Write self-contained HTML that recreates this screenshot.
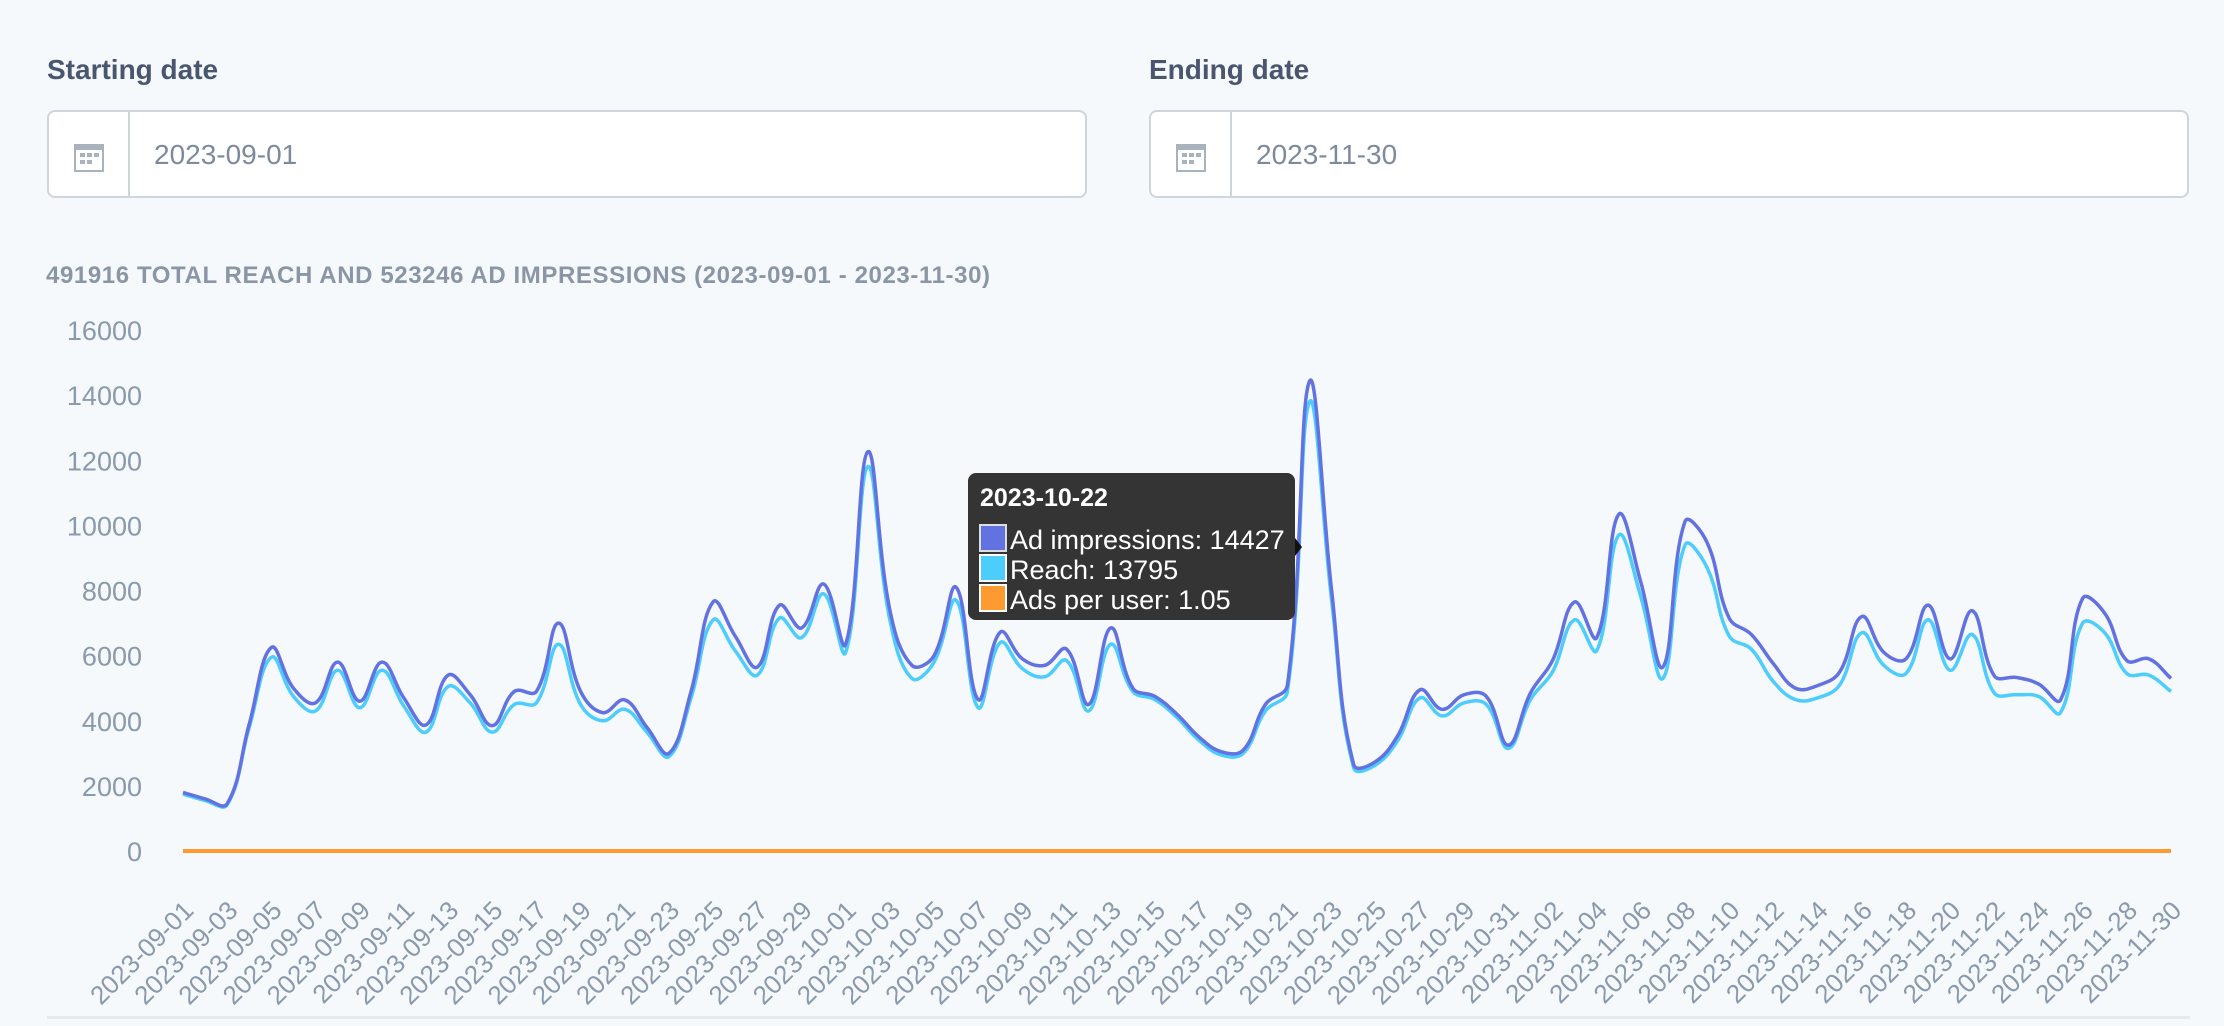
<!DOCTYPE html>
<html><head><meta charset="utf-8"><style>
html,body{margin:0;padding:0;background:#f5f9fc;}
body{width:2224px;height:1026px;position:relative;overflow:hidden;font-family:"Liberation Sans",sans-serif;}
.lbl{position:absolute;font-weight:bold;font-size:28px;color:#4a5670;}
.box{position:absolute;height:88px;background:#fff;border:2px solid #cfd5dc;border-radius:8px;box-sizing:border-box;}
.ic{position:absolute;left:0;top:0;width:81px;height:100%;border-right:2px solid #cfd5dc;box-sizing:border-box;}
.val{position:absolute;left:105px;top:0;line-height:86px;font-size:28px;color:#7d8a9c;}
.title{position:absolute;left:46px;top:262px;font-size:24px;font-weight:bold;color:#8a96a6;letter-spacing:0.6px;}
svg{position:absolute;left:0;top:0;}
</style></head><body>
<div class="lbl" style="left:47px;top:54px;">Starting date</div>
<div class="box" style="left:47px;top:110px;width:1040px;">
 <div class="ic"><svg width="36" height="36" style="left:22px;top:26px" viewBox="0 0 36 36"><rect x="3" y="6" width="30" height="28" fill="#a9b2bd"/><rect x="5" y="12" width="26" height="20" fill="#fff"/><g fill="#a9b2bd"><rect x="9" y="15" width="5" height="4"/><rect x="16" y="15" width="5" height="4"/><rect x="23" y="15" width="5" height="4"/><rect x="9" y="22" width="5" height="4"/><rect x="16" y="22" width="5" height="4"/></g></svg></div>
 <div class="val">2023-09-01</div>
</div>
<div class="lbl" style="left:1149px;top:54px;">Ending date</div>
<div class="box" style="left:1149px;top:110px;width:1040px;">
 <div class="ic"><svg width="36" height="36" style="left:22px;top:26px" viewBox="0 0 36 36"><rect x="3" y="6" width="30" height="28" fill="#a9b2bd"/><rect x="5" y="12" width="26" height="20" fill="#fff"/><g fill="#a9b2bd"><rect x="9" y="15" width="5" height="4"/><rect x="16" y="15" width="5" height="4"/><rect x="23" y="15" width="5" height="4"/><rect x="9" y="22" width="5" height="4"/><rect x="16" y="22" width="5" height="4"/></g></svg></div>
 <div class="val">2023-11-30</div>
</div>
<div class="title">491916 TOTAL REACH AND 523246 AD IMPRESSIONS (2023-09-01 - 2023-11-30)</div>
<svg id="chart" width="2224" height="1026"></svg>
<script>
const impressions=[1800,1600,1450,3900,6250,5000,4550,5800,4600,5800,4700,3870,5400,4800,3850,4900,4900,7000,4900,4250,4640,3800,3000,4900,7650,6600,5650,7550,6850,8200,6350,12260,7400,5700,6000,8100,4650,6720,5900,5700,6200,4500,6850,5000,4750,4200,3500,3050,3100,4500,5100,14427,8000,2650,2750,3550,4950,4350,4800,4750,3250,4850,5850,7650,6550,10340,8250,5650,10120,9470,7150,6650,5750,5000,5080,5500,7200,6100,5900,7550,5900,7380,5380,5330,5130,4640,7760,7300,5850,5900,5300];
const reach=[1750,1550,1420,3800,5950,4750,4300,5550,4400,5550,4450,3650,5050,4550,3650,4500,4550,6350,4500,4000,4350,3650,2900,4700,7100,6150,5400,7150,6550,7900,6100,11800,7100,5300,5800,7700,4400,6400,5600,5350,5850,4300,6350,4900,4650,4100,3400,2950,3000,4300,4900,13795,7700,2550,2650,3400,4700,4150,4550,4500,3150,4650,5500,7100,6150,9700,7800,5300,9400,8700,6600,6200,5200,4650,4700,5100,6700,5700,5450,7100,5550,6650,4850,4800,4750,4250,7000,6700,5450,5400,4900];
const adsPerUser=[1.03,1.03,1.02,1.03,1.05,1.05,1.06,1.04,1.05,1.04,1.06,1.06,1.07,1.05,1.05,1.09,1.08,1.1,1.09,1.06,1.07,1.04,1.03,1.04,1.08,1.07,1.05,1.06,1.05,1.04,1.04,1.04,1.04,1.08,1.03,1.05,1.06,1.05,1.05,1.07,1.06,1.05,1.08,1.02,1.02,1.02,1.03,1.03,1.03,1.05,1.04,1.05,1.04,1.04,1.04,1.04,1.05,1.05,1.05,1.06,1.03,1.04,1.06,1.08,1.06,1.07,1.06,1.07,1.08,1.09,1.08,1.07,1.11,1.08,1.08,1.08,1.07,1.07,1.08,1.06,1.06,1.11,1.11,1.11,1.08,1.09,1.11,1.09,1.07,1.09,1.08];
const yTicks=[0,2000,4000,6000,8000,10000,12000,14000,16000];
const startDate=new Date(Date.UTC(2023,8,1));
const dates=impressions.map((_,i)=>{const d=new Date(startDate.getTime()+i*86400000);return d.toISOString().slice(0,10);});
const X0=183,X1=2171,Y0=851,Y1=330,YMAX=16000;
function xs(i){return X0+(X1-X0)*i/(dates.length-1);}
function ys(v){return Y0-(Y0-Y1)*v/YMAX;}
const NS='http://www.w3.org/2000/svg';
const svg=document.getElementById('chart');
function mk(t,a){const e=document.createElementNS(NS,t);for(const k in a)e.setAttribute(k,a[k]);return e;}
yTicks.forEach(t=>{const e=mk('text',{x:142,y:ys(t)+10,'text-anchor':'end','font-size':'27','fill':'#8a99ab','font-family':'Liberation Sans, sans-serif'});e.textContent=t;


svg.appendChild(e);});
dates.forEach((d,i)=>{if(i%2)return;const x=xs(i)+12,y=912;const e=mk('text',{x:x,y:y,'text-anchor':'end','font-size':'26','fill':'#8a99ab','font-family':'Liberation Sans, sans-serif',transform:'rotate(-45 '+x+' '+y+')'});e.textContent=d;


svg.appendChild(e);});
function pathFor(vals){const p=vals.map((v,i)=>[xs(i),ys(v)]);const t=0.4;let d='M'+p[0][0]+','+p[0][1];
const cps=p.map((c,i)=>{const pr=p[Math.max(0,i-1)],nx=p[Math.min(p.length-1,i+1)];
const d01=Math.hypot(c[0]-pr[0],c[1]-pr[1]),d12=Math.hypot(nx[0]-c[0],nx[1]-c[1]);
const s01=d01/(d01+d12||1),s12=d12/(d01+d12||1);const fa=t*s01,fb=t*s12;
return{p:[c[0]-fa*(nx[0]-pr[0]),c[1]-fa*(nx[1]-pr[1])],n:[c[0]+fb*(nx[0]-pr[0]),c[1]+fb*(nx[1]-pr[1])]};});
for(let i=1;i<p.length;i++){const a=cps[i-1].n,b=cps[i].p;d+=' C'+a[0]+','+a[1]+' '+b[0]+','+b[1]+' '+p[i][0]+','+p[i][1];}return d;}
const lo=mk('path',{d:pathFor(adsPerUser),fill:'none',stroke:'#ff9a30','stroke-width':4});


svg.appendChild(lo);
const lr=mk('path',{d:pathFor(reach),fill:'none',stroke:'#4ccdfb','stroke-width':3.5});


svg.appendChild(lr);
const li=mk('path',{d:pathFor(impressions),fill:'none',stroke:'#6272e0','stroke-width':3.5});


svg.appendChild(li);
const base=mk('rect',{x:47,y:1016,width:2143,height:3,fill:'#e5e9ee'});


svg.appendChild(base);
const tg=mk('g',{});


tg.appendChild(mk('rect',{x:968,y:473,width:327,height:147,rx:8,fill:'#333433'}));
tg.appendChild(mk('path',{d:'M1295,538 L1302,547 L1295,556 Z',fill:'#111'}));
const tt=mk('text',{x:980,y:506,'font-size':'25','font-weight':'bold',fill:'#fff','font-family':'Liberation Sans, sans-serif'});tt.textContent='2023-10-22';tg.appendChild(tt);
const rows=[['#6272e0','#ddd','Ad impressions: 14427'],['#4ccdfb','#fff','Reach: 13795'],['#ff9a30','#fff','Ads per user: 1.05']];
rows.forEach((r,k)=>{const y=525+k*30;tg.appendChild(mk('rect',{x:980,y:y,width:26,height:26,fill:r[0],stroke:r[1],'stroke-width':2}));
const t=mk('text',{x:1010,y:y+24,'font-size':'27',fill:'#fff','font-family':'Liberation Sans, sans-serif'});t.textContent=r[2];tg.appendChild(t);});
svg.appendChild(tg);
</script>
</body></html>
